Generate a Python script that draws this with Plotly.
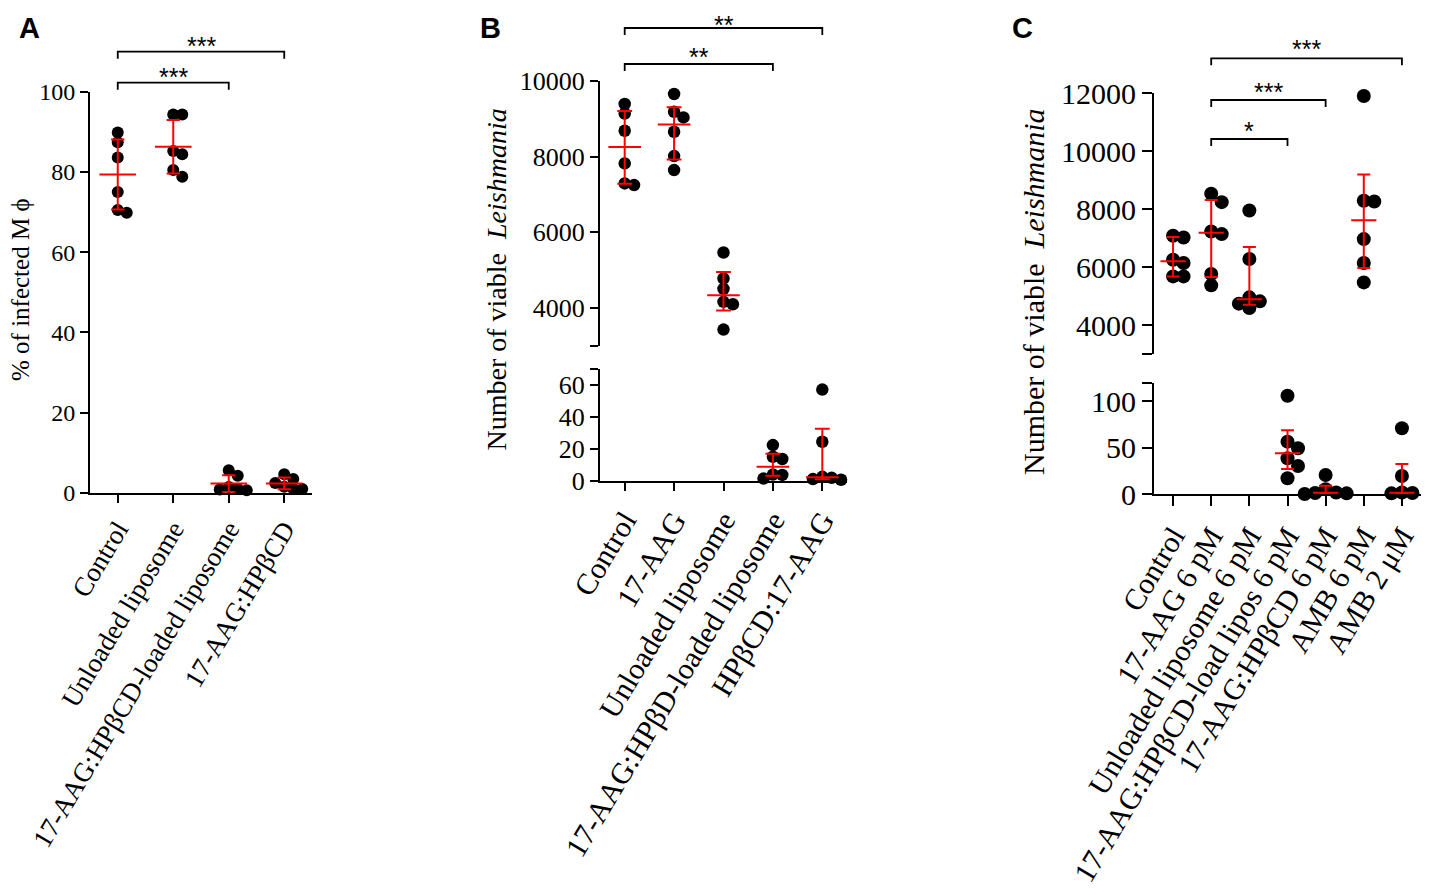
import numpy as np
import plotly.graph_objects as go

W, H = 1429, 895
PAD = 8  # page body margin around the figure

# ---------------- data ----------------
a_labels = ["Control", "Unloaded liposome", "17-AAG:HPβCD-loaded liposome", "17-AAG:HPβCD"]
a_control = [89.8, 87.4, 83.6, 75.0, 70.5, 69.8]
a_unloaded = [94.3, 94.3, 85.2, 84.4, 80.5, 78.8]
a_lipo = [5.6, 4.2, 1.4, 1.0, 0.8, 0.6]
a_cd = [4.6, 3.4, 2.4, 1.5, 1.0, 0.9]

b_labels = ["Control", "17-AAG", "Unloaded liposome", "17-AAG:HPβD-loaded liposome", "HPβCD:17-AAG"]
b_control = [9391, 9141, 8685, 7820, 7291, 7247]
b_aag = [9656, 9188, 9038, 8659, 8015, 7644]
b_unloaded = [5464, 4776, 4503, 4159, 4097, 3426]
b_lipo = [22.5, 15.2, 13.8, 4.0, 3.8, 1.5]
b_cd = [57.3, 24.6, 2.6, 2.0, 1.2, 0.8]

c_labels = ["Control", "17-AAG 6 pM", "Unloaded liposome 6 pM", "17-AAG:HPβCD-load lipos 6 pM",
            "17-AAG:HPβCD 6 pM", "AMB 6 pM", "AMB 2 μM"]
c_control = [7087, 7030, 6260, 6150, 5687, 5687]
c_aag = [8534, 8247, 7237, 7145, 5767, 5377]
c_unloaded = [7960, 6284, 4964, 4826, 4746, 4597]
c_lipo = [106, 56.6, 49.5, 38.7, 30.4, 17.2]
c_cd = [20.8, 5.5, 2.0, 1.4, 1.0, 0.3]
c_amb6 = [11908, 8293, 8270, 6973, 6146, 5480]
c_amb2 = [71, 19.7, 2.0, 1.4, 1.0, 0.4]

# significance brackets: (from group, to group, stars)
a_sig = [(0, 2, "***"), (0, 3, "***")]
b_sig = [(0, 3, "**"), (0, 4, "**")]
c_sig = [(1, 3, "*"), (1, 4, "***"), (1, 6, "***")]

FW, FH = W - PAD, H - PAD


def px_x(p):
    return (p - PAD) / FW


def px_y(p):
    return 1 - (p - PAD) / FH


def swarm(vals, ppu, d, spacing):
    # simple beeswarm: offsets in category units
    step = 0.75 * d
    placed = []
    offs = [0.0] * len(vals)
    for i in sorted(range(len(vals)), key=lambda j: -vals[j]):
        y = vals[i] * ppu
        k = 0
        while True:
            m = (k + 1) // 2
            cand = 0.0 if k == 0 else m * step * (1 if k % 2 else -1)
            if all(np.hypot(cand - px, y - py) >= step - 1e-6 for px, py in placed):
                break
            k += 1
        placed.append((cand, y))
        offs[i] = cand / spacing
    return offs


def summary(vals, kind):
    v = np.array(vals, dtype=float)
    if kind == "mean":
        m, s = v.mean(), v.std(ddof=1)
        return m, m - s, m + s
    q1, med, q3 = np.percentile(v, [25, 50, 75], method="weibull")
    return med, q1, q3


fig = go.Figure()
layout = dict(width=FW, height=FH, margin=dict(l=0, r=0, t=0, b=0, autoexpand=False),
              paper_bgcolor="white", plot_bgcolor="rgba(0,0,0,0)", showlegend=False,
              template="none")
annotations = []
shapes = []

SERIF = "Liberation Serif"
SANS = "Liberation Sans"


def y_axis(dom, rng, tv, tt, fs, tl, anchor):
    return dict(domain=[px_y(dom[1]), px_y(dom[0])], range=rng, tickvals=tv, ticktext=tt,
                showline=True, linecolor="black", linewidth=2, ticks="outside", ticklen=tl,
                tickwidth=2, tickcolor="black", showgrid=False, zeroline=False, automargin=False,
                tickfont=dict(family=SERIF, size=fs, color="black"), anchor=anchor)


def x_axis(dom, n, labels, fs, tl, anchor, visible=True):
    return dict(domain=[px_x(dom[0]), px_x(dom[1])], range=[-0.5, n - 0.5],
                tickvals=list(range(n)), ticktext=labels, tickangle=-59,
                showline=visible, visible=visible, linecolor="black", linewidth=2,
                ticks="outside", ticklen=tl, tickwidth=2, tickcolor="black",
                showgrid=False, zeroline=False, automargin=False,
                tickfont=dict(family=SERIF, size=fs, color="black"), anchor=anchor)


panels = [
    dict(letter="A", groups=[a_control, a_unloaded, a_lipo, a_cd], labels=a_labels, kind="mean",
         xpx=(90, 312), d=12, fs_y=24, fs_x=27, tl=8, sig=a_sig,
         sig_px=[(82.7, 71.0), (51.7, 40.0)], mw=0.66, cw=0.24,
         title="% of infected M ϕ", title_pos=(20, 290), title_fs=25, letter_pos=(29, 28),
         axes=[dict(ypx=(91.7, 492.7), rng=[0, 100], tv=[0, 20, 40, 60, 80, 100],
                    tt=["0", "20", "40", "60", "80", "100"])]),
    dict(letter="B", groups=[b_control, b_aag, b_unloaded, b_lipo, b_cd], labels=b_labels, kind="median",
         xpx=(600, 847), d=12.5, fs_y=26, fs_x=30, tl=8, sig=b_sig,
         sig_px=[(64.0, 50.7), (28.0, 19.5)], mw=0.66, cw=0.3,
         title="Number of viable\u00a0 <i>Leishmania</i>", title_pos=(496.5, 280), title_fs=28,
         letter_pos=(491, 28),
         axes=[dict(ypx=(81, 345.7), rng=[3000, 10000], tv=[3000, 4000, 6000, 8000, 10000],
                    tt=["", "4000", "6000", "8000", "10000"]),
               dict(ypx=(369.3, 481), rng=[0, 70], tv=[0, 20, 40, 60, 70],
                    tt=["0", "20", "40", "60", ""])]),
    dict(letter="C", groups=[c_control, c_aag, c_unloaded, c_lipo, c_cd, c_amb6, c_amb2], labels=c_labels,
         kind="median", xpx=(1154, 1421), d=14, fs_y=30, fs_x=30, tl=10, sig=c_sig,
         sig_px=[(139.0, 125.0), (100.0, 86.0), (58.3, 43.3)], mw=0.66, cw=0.34,
         title="Number of viable\u00a0 <i>Leishmania</i>", title_pos=(1034, 292), title_fs=30,
         letter_pos=(1022.5, 28),
         axes=[dict(ypx=(93.3, 354.3), rng=[3000, 12000], tv=[3000, 4000, 6000, 8000, 10000, 12000],
                    tt=["", "4000", "6000", "8000", "10000", "12000"]),
               dict(ypx=(382.7, 494.3), rng=[0, 120], tv=[0, 50, 100, 120],
                    tt=["0", "50", "100", ""])]),
]

red_traces = []
ax_i = 0
for p in panels:
    n = len(p["groups"])
    spacing = (p["xpx"][1] - p["xpx"][0]) / n
    axis_ids = []
    for k, a in enumerate(p["axes"]):
        ax_i += 1
        sfx = "" if ax_i == 1 else str(ax_i)
        last = k == len(p["axes"]) - 1
        layout["xaxis" + sfx] = x_axis(p["xpx"], n, p["labels"], p["fs_x"], p["tl"], "y" + sfx, visible=last)
        layout["yaxis" + sfx] = y_axis(a["ypx"], a["rng"], a["tv"], a["tt"], p["fs_y"], p["tl"], "x" + sfx)
        ppu = (a["ypx"][1] - a["ypx"][0]) / (a["rng"][1] - a["rng"][0])
        axis_ids.append(("x" + sfx, "y" + sfx, a, ppu))

    for gi, vals in enumerate(p["groups"]):
        # pick the segment of the broken axis holding this group
        seg = axis_ids[-1]
        for s in axis_ids:
            if min(vals) >= s[2]["rng"][0] and max(vals) <= s[2]["rng"][1] * 1.05:
                seg = s
                break
        xr, yr, a, ppu = seg
        offs = swarm(vals, ppu, p["d"], spacing)
        fig.add_trace(go.Scatter(x=[gi + o for o in offs], y=vals, mode="markers", xaxis=xr, yaxis=yr,
                                 marker=dict(color="black", size=p["d"], line=dict(width=0)),
                                 cliponaxis=False, hoverinfo="y"))
        c, lo, hi = summary(vals, p["kind"])
        mw, cw = p["mw"] / 2, p["cw"] / 2
        xs = [gi - mw, gi + mw, None, gi, gi, None, gi - cw, gi + cw, None, gi - cw, gi + cw]
        ys = [c, c, None, lo, hi, None, hi, hi, None, lo, lo]
        red_traces.append(go.Scatter(x=xs, y=ys, mode="lines", xaxis=xr, yaxis=yr,
                                     line=dict(color="#ff0000", width=2), cliponaxis=False,
                                     hoverinfo="skip"))

    # significance brackets (drawn above the top axis)
    xr_top = axis_ids[0][0]
    for (g0, g1, txt), (ybr, ytx) in zip(p["sig"], p["sig_px"]):
        y0, y1 = px_y(ybr), px_y(ybr + 7)
        shapes.append(dict(type="path", xref=xr_top, yref="paper",
                           path=f"M {g0},{y1} L {g0},{y0} L {g1},{y0} L {g1},{y1}",
                           line=dict(color="black", width=1.8)))
        annotations.append(dict(text=txt, x=(g0 + g1) / 2, xref=xr_top, y=px_y(ytx + 6), yref="paper",
                                showarrow=False, xanchor="center", yanchor="middle",
                                font=dict(family=SANS, size=25, color="black")))

    annotations.append(dict(text=p["title"], x=px_x(p["title_pos"][0]), y=px_y(p["title_pos"][1]),
                            xref="paper", yref="paper", textangle=-90, showarrow=False,
                            xanchor="center", yanchor="middle",
                            font=dict(family=SERIF, size=p["title_fs"], color="black")))
    annotations.append(dict(text="<b>" + p["letter"] + "</b>", x=px_x(p["letter_pos"][0]),
                            y=px_y(p["letter_pos"][1]), xref="paper", yref="paper", showarrow=False,
                            xanchor="center", yanchor="middle",
                            font=dict(family=SANS, size=29, color="black")))

for t in red_traces:
    fig.add_trace(t)

layout["annotations"] = annotations
layout["shapes"] = shapes
fig.update_layout(**layout)
fig.write_html("out.html")
